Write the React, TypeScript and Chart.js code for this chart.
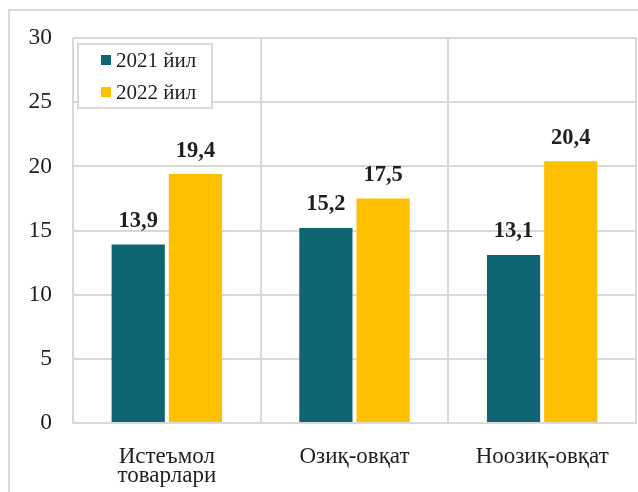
import React, { useEffect, useRef } from "react";
import { Chart, registerables } from "chart.js";

Chart.register(...registerables);

const categories: (string | string[])[] = [["Истеъмол", "товарлари"], "Озиқ-овқат", "Ноозиқ-овқат"];
const series2021 = [13.9, 15.2, 13.1];
const series2022 = [19.4, 17.5, 20.4];
const seriesNames = ["2021 йил", "2022 йил"];
const yTicks = [0, 5, 10, 15, 20, 25, 30];

const COLORS = ["#0E6673", "#FFC000"];
const FONT = '"Liberation Serif", "Times New Roman", serif';
const TEXT = "#1f1f1f";
const GRID = "#d9d9d9";

const decorPlugin = {
  id: "decor",
  beforeDraw(chart: any) {
    const ctx = chart.ctx;
    ctx.save();
    ctx.strokeStyle = GRID;
    ctx.lineWidth = 2;
    ctx.beginPath();
    ctx.moveTo(9, 800);
    ctx.lineTo(9, 10);
    ctx.lineTo(800, 10);
    ctx.stroke();
    ctx.restore();
  },
  afterDatasetsDraw(chart: any) {
    const ctx = chart.ctx;
    ctx.save();
    ctx.font = `bold 22.5px ${FONT}`;
    ctx.fillStyle = TEXT;
    ctx.textAlign = "center";
    ctx.textBaseline = "alphabetic";
    chart.data.datasets.forEach((ds: any, i: number) => {
      const meta = chart.getDatasetMeta(i);
      meta.data.forEach((bar: any, j: number) => {
        const v = ds.data[j] as number;
        ctx.fillText(v.toFixed(1).replace(".", ","), bar.x, bar.y - 17.5);
      });
    });
    ctx.restore();
  },
  afterDraw(chart: any) {
    const ctx = chart.ctx;
    const area = chart.chartArea;
    const bx = area.left + 5;
    const by = area.top + 6;
    const bw = 134;
    const bh = 64;
    ctx.save();
    ctx.fillStyle = "#ffffff";
    ctx.fillRect(bx, by, bw, bh);
    ctx.strokeStyle = GRID;
    ctx.lineWidth = 2;
    ctx.strokeRect(bx, by, bw, bh);
    ctx.font = `21px ${FONT}`;
    ctx.textBaseline = "middle";
    ctx.textAlign = "left";
    seriesNames.forEach((name, i) => {
      const cy = by + 16 + i * 32;
      ctx.fillStyle = COLORS[i];
      ctx.fillRect(bx + 23, cy - 5, 10, 10);
      ctx.fillStyle = TEXT;
      ctx.fillText(name, bx + 38, cy + 1);
    });
    ctx.restore();
  },
};

export default function App() {
  const ref = useRef<HTMLCanvasElement>(null);
  useEffect(() => {
    if (!ref.current) return;
    const chart = new Chart(ref.current, {
      type: "bar",
      data: {
        labels: categories,
        datasets: [
          { label: seriesNames[0], data: series2021, backgroundColor: COLORS[0], categoryPercentage: 0.61, barPercentage: 0.93 },
          { label: seriesNames[1], data: series2022, backgroundColor: COLORS[1], categoryPercentage: 0.61, barPercentage: 0.93 },
        ],
      },
      options: {
        responsive: false,
        animation: false,
        devicePixelRatio: 1,
        layout: { padding: { left: 0, top: 38, right: 2, bottom: 0 } },
        plugins: { legend: { display: false }, tooltip: { enabled: false } },
        scales: {
          x: {
            grid: { display: true, color: GRID, lineWidth: 2, offset: true, drawTicks: false },
            border: { display: true, color: GRID, width: 2 },
            ticks: { color: TEXT, font: { family: FONT, size: 23, lineHeight: 0.8 }, padding: 25, maxRotation: 0, autoSkip: false },
            afterFit(scale: any) { scale.height = 69; },
          },
          y: {
            min: 0,
            max: 30,
            afterBuildTicks(scale: any) { scale.ticks = yTicks.map((v) => ({ value: v })); },
            grid: { color: GRID, lineWidth: 2, drawTicks: false },
            border: { display: false },
            ticks: { color: TEXT, font: { family: FONT, size: 23.5 }, padding: 21 },
            afterFit(scale: any) { scale.width = 73; },
          },
        },
      },
      plugins: [decorPlugin],
    });
    return () => chart.destroy();
  }, []);
  return (
    <div style={{ position: "fixed", left: 0, top: 0, width: 638, height: 492, background: "#fff" }}>
      <canvas ref={ref} width={638} height={492} style={{ width: 638, height: 492 }} />
    </div>
  );
}
